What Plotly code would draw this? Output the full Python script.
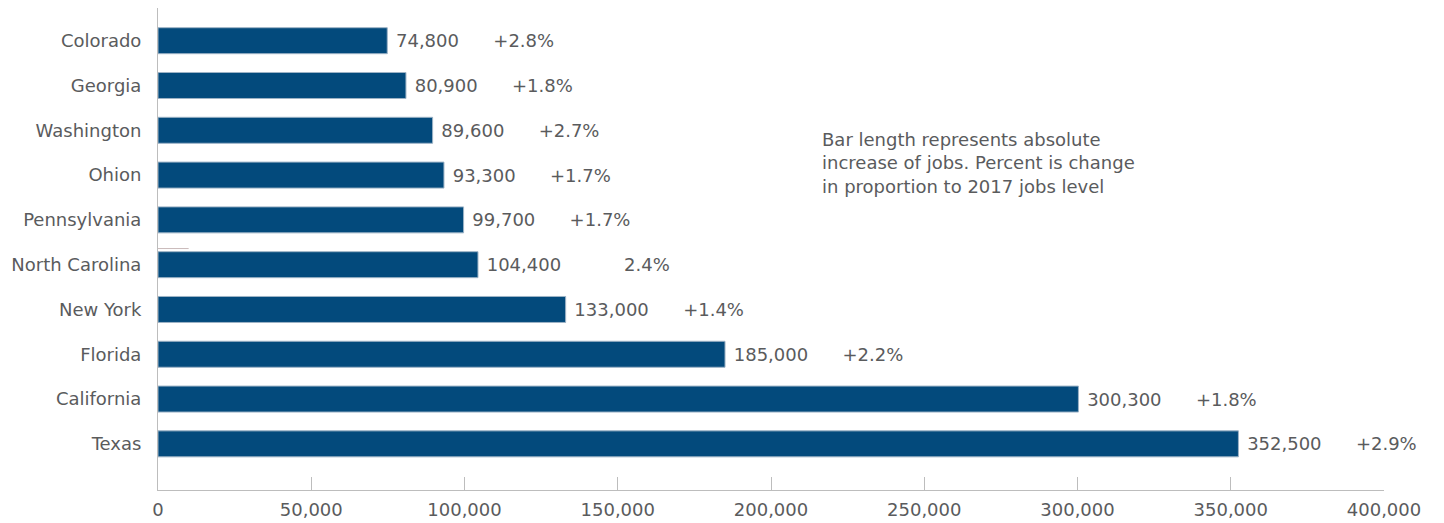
import plotly.graph_objects as go

# data (bottom to top in plot order)
states = ["Texas", "California", "Florida", "New York", "North Carolina",
          "Pennsylvania", "Ohion", "Washington", "Georgia", "Colorado"]
jobs_added = [352500, 300300, 185000, 133000, 104400, 99700, 93300, 89600, 80900, 74800]
pct_change = ["+2.9%", "+1.8%", "+2.2%", "+1.4%", "2.4%",
              "+1.7%", "+1.7%", "+2.7%", "+1.8%", "+2.8%"]
x_ticks = [0, 50000, 100000, 150000, 200000, 250000, 300000, 350000, 400000]

note = ("Bar length represents absolute<br>increase of jobs. Percent is change"
        "<br>in proportion to 2017 jobs level")

FONT = "'DejaVu Sans', 'Open Sans', sans-serif"
SIZE = 18
GREY = "#5a5b5d"
BAR = "#034a7c"
NBSP = "\u00a0"


def bar_label(v, p):
    # the unsigned percent sits further right in the source
    gap = 6 if p.startswith("+") else 11
    return NBSP + f"{v:,}" + NBSP * gap + p


labels = [bar_label(v, p) for v, p in zip(jobs_added, pct_change)]

fig = go.Figure()
fig.add_trace(go.Bar(
    y=list(range(len(states))),
    x=jobs_added,
    orientation="h",
    width=0.58,
    marker=dict(color=BAR, line=dict(color="#9db3c6", width=1)),
    text=labels,
    textposition="outside",
    textfont=dict(family=FONT, size=SIZE, color=GREY),
    cliponaxis=False,
    hoverinfo="skip",
))

# stray short rule seen in the source image
fig.add_shape(type="line", x0=0, x1=10000, y0=4.36, y1=4.36,
              line=dict(color="#c9b9b9", width=1))

fig.add_annotation(
    text=note, xref="paper", yref="paper", x=0.540, y=0.753,
    xanchor="left", yanchor="top", align="left", showarrow=False,
    font=dict(family=FONT, size=SIZE, color=GREY),
)

# page body adds ~8px offset, so the figure is 8px smaller than the window
fig.update_layout(
    width=1436, height=515,
    margin=dict(l=150, r=60, t=0, b=33),
    plot_bgcolor="white", paper_bgcolor="white",
    showlegend=False,
    font=dict(family=FONT, size=SIZE, color=GREY),
    uniformtext=dict(minsize=SIZE, mode="show"),
)
fig.update_xaxes(
    range=[0, 400000], tickvals=x_ticks, tickformat=",d",
    showgrid=False, zeroline=False, automargin=False,
    showline=True, linecolor="#bdbdbd", linewidth=1,
    ticks="inside", ticklen=13, tickcolor="#bdbdbd", ticklabelstandoff=3,
    tickfont=dict(family=FONT, size=SIZE, color=GREY),
)
fig.update_yaxes(
    range=[-1.03, 9.73], tickvals=list(range(len(states))), ticktext=states,
    showgrid=False, zeroline=False, automargin=False,
    showline=True, linecolor="#bdbdbd", linewidth=1,
    ticks="", ticklabelstandoff=12,
    tickfont=dict(family=FONT, size=SIZE, color=GREY),
)

fig.write_html("out.html")
